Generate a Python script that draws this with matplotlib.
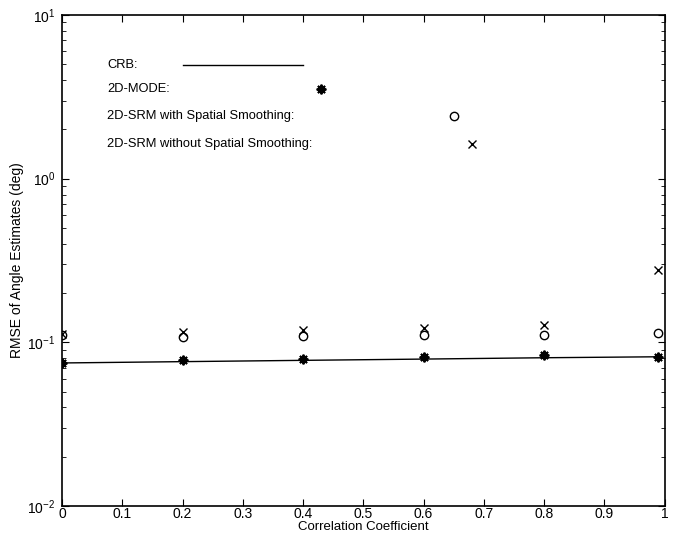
import numpy as np
import matplotlib
matplotlib.use("Agg")
import matplotlib.pyplot as plt
from matplotlib.ticker import LogLocator, NullFormatter

plt.rcParams['font.family'] = ['Liberation Sans', 'DejaVu Sans']

# correlation coefficients used in the simulation
rho = [0.0, 0.2, 0.4, 0.6, 0.8, 0.99]

# RMSE of angle estimates (deg)
crb = [0.0748, 0.0762, 0.0776, 0.0790, 0.0805, 0.0816]
mode_2d = [0.0750, 0.0775, 0.0790, 0.0810, 0.0835, 0.0815]
srm_ss = [0.1110, 0.1080, 0.1095, 0.1110, 0.1110, 0.1140]
srm_no_ss = [0.1120, 0.1160, 0.1190, 0.1230, 0.1285, 0.2760]

xticks = [0.0, 0.1, 0.2, 0.3, 0.4, 0.5, 0.6, 0.7, 0.8, 0.9, 1.0]
xtick_labels = ['0', '0.1', '0.2', '0.3', '0.4', '0.5', '0.6', '0.7', '0.8', '0.9', '1']

fig = plt.figure(figsize=(6.76, 5.36), dpi=100)
ax = fig.add_axes([0.092, 0.056, 0.891, 0.916])

ax.plot(rho, crb, color='black', lw=1.0)
ax.plot(rho, mode_2d, linestyle='none', marker=(8, 2, 0), ms=7, mec='black', mew=1.4)
ax.plot(rho, srm_ss, linestyle='none', marker='o', ms=6, mfc='none', mec='black', mew=1.0)
ax.plot(rho, srm_no_ss, linestyle='none', marker='x', ms=6, color='black', mew=1.0)

ax.set_yscale('log')
ax.set_xlim(0, 1)
ax.set_ylim(1e-2, 1e1)
ax.set_xticks(xticks)
ax.set_xticklabels(xtick_labels)
ax.yaxis.set_major_locator(LogLocator(base=10, numticks=10))
ax.yaxis.set_minor_locator(LogLocator(base=10, subs=np.arange(2, 10), numticks=10))
ax.yaxis.set_minor_formatter(NullFormatter())
ax.tick_params(which='both', direction='in', top=True, right=True, labelsize=10)
ax.tick_params(which='major', length=5)
ax.tick_params(which='minor', length=3)
ax.tick_params(axis='x', pad=1)
ax.tick_params(axis='y', pad=5)
for s in ax.spines.values():
    s.set_linewidth(1.2)

ax.set_xlabel('Correlation Coefficient', fontsize=9.5, labelpad=0)
ax.set_ylabel('RMSE of Angle Estimates (deg)', fontsize=10, labelpad=2)

# hand placed legend, as in the original
tx = 0.075
rows = [4.92, 3.55, 2.42, 1.62]
fs = 9.3
trans = ax.get_yaxis_transform()
ax.text(tx, rows[0], 'CRB:', fontsize=fs, va='center', transform=trans)
ax.plot([0.2, 0.4], [rows[0], rows[0]], color='black', lw=1.0)
ax.text(tx, rows[1], '2D-MODE:', fontsize=fs, va='center', transform=trans)
ax.plot([0.43], [rows[1]], linestyle='none', marker=(8, 2, 0), ms=7, mec='black', mew=1.4)
ax.text(tx, rows[2], '2D-SRM with Spatial Smoothing:', fontsize=fs, va='center', transform=trans)
ax.plot([0.65], [rows[2]], linestyle='none', marker='o', ms=6, mfc='none', mec='black', mew=1.0)
ax.text(tx, rows[3], '2D-SRM without Spatial Smoothing:', fontsize=fs, va='center', transform=trans)
ax.plot([0.68], [rows[3]], linestyle='none', marker='x', ms=6, color='black', mew=1.0)

fig.savefig('out.png', dpi=100)
